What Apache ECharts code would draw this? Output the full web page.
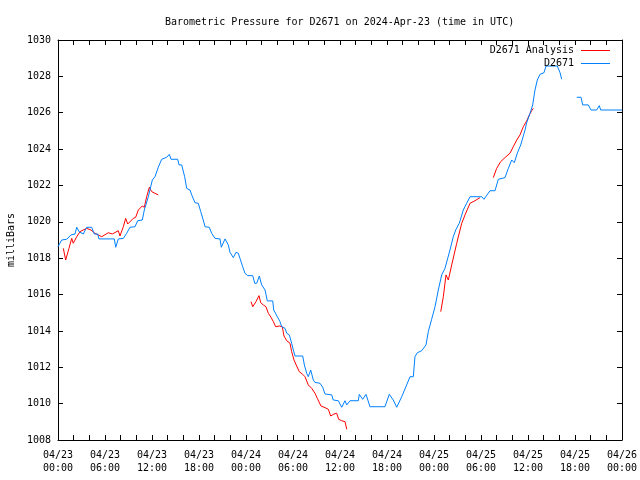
<!DOCTYPE html>
<html>
<head>
<meta charset="utf-8">
<script src="https://cdn.jsdelivr.net/npm/echarts@6/dist/echarts.min.js"></script>
<style>html,body{margin:0;padding:0;background:#fff}#c{width:640px;height:480px}</style>
</head>
<body>
<div id="c"></div>
<script>
// Hours since 2024-04-23 00:00 UTC
const tickLabels = ['04/23\n00:00','04/23\n06:00','04/23\n12:00','04/23\n18:00','04/24\n00:00','04/24\n06:00','04/24\n12:00','04/24\n18:00','04/25\n00:00','04/25\n06:00','04/25\n12:00','04/25\n18:00','04/26\n00:00'];

const obsHours = [0.0,0.47,1.11,1.66,2.17,2.39,2.68,3.23,3.66,4.30,4.63,5.07,5.23,7.19,7.37,7.70,8.34,8.77,9.19,9.83,10.17,10.76,11.02,11.53,12.04,12.38,12.80,13.24,13.88,14.21,14.43,15.28,15.45,15.79,16.17,16.43,16.85,17.07,17.49,17.91,18.22,18.47,18.77,19.31,19.62,20.04,20.68,20.85,21.32,21.74,21.96,22.38,22.72,23.02,23.23,23.58,23.87,24.22,24.86,25.11,25.37,25.70,26.00,26.43,26.72,27.41,27.54,28.00,28.34,28.56,28.98,29.20,29.53,29.83,30.04,30.26,31.24,31.45,31.75,31.95,32.26,32.59,32.81,33.45,33.79,34.09,34.94,35.14,35.78,36.22,36.64,36.86,37.28,38.34,38.46,38.90,39.32,39.83,41.74,42.29,42.80,43.24,43.88,44.51,44.94,45.36,45.57,45.87,46.43,46.98,47.27,47.70,48.13,48.55,48.98,49.40,50.04,50.46,50.81,51.23,51.74,52.17,52.60,54.09,54.38,55.15,55.79,56.21,57.06,57.49,57.92,58.25,58.63,59.07,59.62,59.83,60.26,60.60,60.89,61.19,61.53,62.04,62.30,63.74,64.09,64.30,65.3,66.22,66.77,66.98,67.70,68.04,68.77,69.10,69.28,72.0];
const obsValues = [1018.63,1019.0,1019.04,1019.28,1019.33,1019.70,1019.46,1019.33,1019.70,1019.70,1019.33,1019.33,1019.06,1019.06,1018.60,1019.06,1019.09,1019.37,1019.70,1019.73,1020.06,1020.10,1020.65,1021.38,1022.30,1022.48,1023.00,1023.44,1023.55,1023.71,1023.44,1023.44,1023.13,1023.13,1022.48,1021.84,1021.75,1021.48,1021.05,1021.02,1020.56,1020.21,1019.73,1019.70,1019.37,1019.09,1019.06,1018.60,1019.06,1018.73,1018.32,1018.03,1018.32,1018.27,1017.99,1017.53,1017.17,1017.04,1017.04,1016.62,1016.62,1017.02,1016.53,1016.25,1015.65,1015.65,1015.15,1014.78,1014.51,1014.23,1014.14,1013.87,1013.78,1013.32,1012.95,1012.62,1012.62,1012.13,1011.67,1011.48,1011.85,1011.30,1011.17,1011.12,1010.90,1010.53,1010.48,1010.20,1010.16,1009.80,1010.16,1009.93,1010.16,1010.16,1010.51,1010.24,1010.51,1009.83,1009.83,1010.51,1010.20,1009.80,1010.38,1011.03,1011.48,1011.48,1012.58,1012.80,1012.91,1013.23,1013.96,1014.64,1015.33,1016.25,1017.08,1017.44,1018.45,1019.18,1019.59,1019.92,1020.65,1021.02,1021.38,1021.38,1021.24,1021.71,1021.71,1022.34,1022.43,1022.94,1023.40,1023.25,1023.77,1024.23,1025.05,1025.45,1025.97,1026.43,1027.25,1027.80,1028.11,1028.20,1028.57,1028.57,1028.20,1027.84,null,1026.85,1026.85,1026.43,1026.43,1026.15,1026.15,1026.39,1026.15,1026.15];

const anaHours = [0.68,0.98,1.40,1.75,1.95,2.39,2.81,3.66,4.21,4.72,5.58,6.42,6.93,7.70,7.91,8.34,8.64,8.90,9.61,9.92,10.25,10.76,11.02,11.32,11.66,11.96,12.38,12.80,18.0,24.64,24.86,25.28,25.66,25.88,26.21,26.55,26.85,27.19,27.49,27.79,28.25,28.63,28.85,29.20,29.62,29.83,30.13,30.47,30.80,31.24,31.53,31.95,32.39,32.81,33.10,33.57,34.09,34.51,34.81,35.23,35.58,35.83,36.22,36.64,36.86,42.0,48.86,49.19,49.53,49.83,50.26,50.90,51.54,51.96,52.60,53.23,53.87,54.7,55.57,56.00,56.51,57.06,57.70,58.12,58.56,58.98,59.40,59.83,60.17,60.47,60.68];
const anaValues = [1018.54,1017.90,1018.54,1019.09,1018.82,1019.18,1019.46,1019.64,1019.55,1019.37,1019.18,1019.40,1019.33,1019.51,1019.22,1019.73,1020.19,1019.88,1020.19,1020.25,1020.65,1020.87,1020.80,1021.38,1021.90,1021.66,1021.57,1021.48,null,1015.61,1015.33,1015.61,1015.94,1015.55,1015.43,1015.33,1014.97,1014.75,1014.51,1014.23,1014.27,1014.23,1013.72,1013.46,1013.32,1012.86,1012.40,1012.07,1011.76,1011.61,1011.48,1011.03,1010.84,1010.57,1010.29,1009.87,1009.78,1009.69,1009.32,1009.43,1009.47,1009.14,1009.06,1009.01,1008.59,null,1015.06,1015.88,1017.08,1016.80,1017.63,1018.82,1019.92,1020.38,1021.02,1021.16,1021.33,null,1022.43,1022.94,1023.31,1023.53,1023.77,1024.13,1024.50,1024.78,1025.23,1025.55,1025.88,1026.11,1026.24];

const pair = (xs, ys) => xs.map((x, i) => [x, ys[i]]);
const FONT = 'DejaVu Sans Mono';

const chart = echarts.init(document.getElementById('c'), null, {renderer: 'canvas'});
const tickCommon = {
  axisLine: {show: true, onZero: false, lineStyle: {color: '#000', width: 1}},
  axisTick: {show: true, inside: true, length: 5, lineStyle: {color: '#000'}},
  splitLine: {show: false}
};
chart.setOption({
  animation: false,
  backgroundColor: '#fff',
  title: {
    text: 'Barometric Pressure for D2671 on 2024-Apr-23 (time in UTC)',
    left: 160, top: 12,
    textStyle: {fontFamily: FONT, fontSize: 10, fontWeight: 'normal', color: '#000'}
  },
  legend: {
    orient: 'vertical', right: 25, top: 40, align: 'right',
    icon: 'rect', itemWidth: 29, itemHeight: 1, itemGap: 2,
    textStyle: {fontFamily: FONT, fontSize: 10, color: '#000', lineHeight: 11, padding: [0, 2, 0, 0]},
    data: [
      {name: 'D2671 Analysis', itemStyle: {color: '#ff0000'}},
      {name: 'D2671', itemStyle: {color: '#0080ff'}}
    ]
  },
  grid: {left: 58, right: 18, top: 40, bottom: 40, containLabel: false, outerBoundsMode: 'none'},
  xAxis: [
    Object.assign({
      type: 'value', min: 0, max: 72, interval: 6, position: 'bottom',
      minorTick: {show: true, splitNumber: 3, length: 5, lineStyle: {color: '#000'}},
      axisLabel: {
        fontFamily: FONT, fontSize: 10, color: '#000', margin: 9, lineHeight: 13,
        showMinLabel: true, showMaxLabel: true,
        formatter: v => tickLabels[Math.round(v / 6)]
      }
    }, tickCommon),
    Object.assign({
      type: 'value', min: 0, max: 72, interval: 6, position: 'top',
      minorTick: {show: true, splitNumber: 3, length: 5, lineStyle: {color: '#000'}},
      axisLabel: {show: false}
    }, tickCommon)
  ],
  yAxis: [
    Object.assign({
      type: 'value', min: 1008, max: 1030, interval: 2, position: 'left',
      name: 'milliBars', nameLocation: 'middle', nameRotate: 90, nameGap: 39,
      nameTextStyle: {fontFamily: FONT, fontSize: 10, color: '#000'},
      axisLabel: {fontFamily: FONT, fontSize: 10, color: '#000', margin: 7, formatter: v => String(v)}
    }, tickCommon),
    Object.assign({
      type: 'value', min: 1008, max: 1030, interval: 2, position: 'right',
      axisLabel: {show: false}
    }, tickCommon)
  ],
  series: [
    {
      name: 'D2671 Analysis', type: 'line', symbol: 'none', connectNulls: false,
      color: '#ff0000', lineStyle: {color: '#ff0000', width: 1},
      data: pair(anaHours, anaValues)
    },
    {
      name: 'D2671', type: 'line', symbol: 'none', connectNulls: false,
      color: '#0080ff', lineStyle: {color: '#0080ff', width: 1},
      data: pair(obsHours, obsValues)
    }
  ]
});
</script>
</body>
</html>
